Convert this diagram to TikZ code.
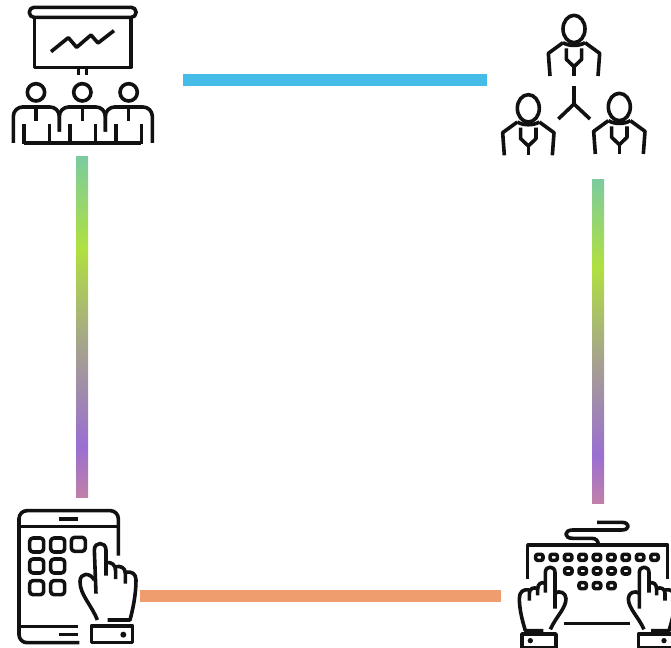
\documentclass[tikz,border=0pt]{standalone}
\usepackage{xcolor}
\definecolor{Ink}{HTML}{111111}
\definecolor{BarBlue}{HTML}{45BCE8}
\definecolor{BarOrange}{HTML}{EF9C6E}
\definecolor{FadeA}{HTML}{7CCB9F}
\definecolor{FadeB}{HTML}{B0E040}
\definecolor{FadeC}{HTML}{A5A090}
\definecolor{FadeD}{HTML}{9A6FD2}
\definecolor{FadeE}{HTML}{C080A8}
\pgfdeclareverticalshading{barfade}{100bp}{color(0bp)=(FadeE); color(25bp)=(FadeE); color(32.5bp)=(FadeD); color(46.5bp)=(FadeC); color(61.5bp)=(FadeB); color(75bp)=(FadeA); color(100bp)=(FadeA)}
\tikzset{
  icon/.style={draw=Ink,line width=2.7pt,line cap=butt,line join=round},
  fadebar/.style={shading=barfade,draw=none},
  person/.pic={
    \draw[icon] (0,0) ellipse [x radius=33,y radius=41];
    \draw[icon] (-33,41) .. controls (-15,52) and (15,52) .. (33,41);
    \draw[icon] (-72,141) -- (-77,73) -- (-33,41);
    \draw[icon] (72,141) -- (77,73) -- (33,41);
    \draw[icon] (-23,58) -- (-23,91) -- (0,113) -- (23,91) -- (23,58);
    \draw[icon] (0,113) -- (0,141);
  },
  typing hand/.pic={
    \draw[icon] (103,248) -- (103,188) .. controls (103,166) and (132,166) .. (132,188) -- (132,296);
    \draw[icon] (132,250) .. controls (145,240) and (165,248) .. (165,266) .. controls (165,295) and (135,320) .. (118,358);
    \draw[icon] (103,220) .. controls (90,214) and (80,222) .. (80,238) -- (80,256);
    \draw[icon] (80,236) .. controls (68,230) and (55,236) .. (55,250) -- (55,272);
    \draw[icon] (55,240) .. controls (38,236) and (25,245) .. (25,265) .. controls (25,300) and (35,335) .. (43,362) -- (97,362);
    \draw[icon] (33,412) -- (33,372) -- (135,372) -- (135,412) -- cycle;
    \fill[Ink] (58,392) circle (8);
  }
}

\begin{document}
\begin{tikzpicture}[x=0.75pt,y=-0.75pt]
\useasboundingbox (0,0) rectangle (671,648);
% bars
\coordinate (topL) at (183,74); \coordinate (topR) at (487,86);
\coordinate (leftT) at (76,156.4); \coordinate (leftB) at (88,497.6);
\coordinate (rightT) at (592,179.4); \coordinate (rightB) at (604,503.6);
\coordinate (lowL) at (140,590); \coordinate (lowR) at (501,602);
\fill[BarBlue] (topL) rectangle (topR);
\fill[BarOrange] (lowL) rectangle (lowR);
\shade[fadebar] (leftT) rectangle (leftB);
\shade[fadebar] (rightT) rectangle (rightB);
% presentation
\begin{scope}[x=0.25pt,y=-0.25pt]
\draw[icon,rounded corners=3.5pt] (88,22) rectangle (408,52);
\draw[icon] (103,52) -- (103,202) -- (393,202) -- (393,52);
\draw[icon] (153,155) -- (205,113) -- (230,142) -- (273,105) -- (294,129) -- (342,92);
\draw[icon] (236,202) -- (236,226);
\draw[icon] (260,202) -- (260,226);
\foreach \x in {108,247,386} {
  \draw[icon] (\x,277) circle (26);
  \draw[icon] (\x,321) -- (\x,363);
}
\draw[icon,rounded corners=7pt] (40,429) -- (40,321) -- (178,321) -- (178,395);
\draw[icon,rounded corners=7pt] (178,395) -- (178,321) -- (316,321) -- (316,395);
\draw[icon,rounded corners=7pt] (316,395) -- (316,321) -- (457,321) -- (457,429);
\foreach \x in {72,148,210,286,348,424} \draw[icon] (\x,371) -- (\x,431);
\draw[icon] (72,429) -- (424,429);
\end{scope}
% team
\begin{scope}[shift={(490,0)},x=0.25pt,y=-0.25pt]
\pic at (252,87) {person};
\pic at (115,325) {person};
\pic at (388,321) {person};
\draw[icon] (252,258) -- (252,312);
\draw[icon] (205,357) -- (252,312) -- (300,357);
\end{scope}
% tablet
\begin{scope}[shift={(0,495)},x=0.25pt,y=-0.25pt]
\draw[icon,rounded corners=6pt] (355,182) -- (355,47) -- (57,47) -- (57,443) -- (238,443);
\draw[icon] (57,95) -- (355,95);
\draw[icon] (178,72) -- (235,72);
\draw[icon] (57,394) -- (235,394);
\draw[icon] (178,419) -- (235,419);
\foreach \x/\y in {110/150,173/150,235/148,110/213,173/213,110/278,173/278}
  \draw[icon,rounded corners=2.5pt] (\x-21,\y-21) rectangle (\x+21,\y+21);
\draw[icon] (288,296) -- (283,165) .. controls (283,139) and (318,139) .. (318,165) -- (318,242);
\draw[icon] (318,203) .. controls (335,200) and (347,210) .. (347,228) -- (347,252);
\draw[icon] (347,215) .. controls (362,212) and (376,218) .. (376,235) -- (376,266);
\draw[icon] (376,232) .. controls (395,228) and (408,236) .. (408,255) .. controls (408,300) and (398,345) .. (390,375) -- (323,375);
\draw[icon] (283,255) .. controls (270,232) and (240,232) .. (240,260) .. controls (240,300) and (275,330) .. (292,375);
\draw[icon] (274,393) rectangle (398,443);
\fill[Ink] (370,419) circle (9);
\end{scope}
% keyboard
\begin{scope}[shift={(511,510)},x=0.25pt,y=-0.25pt]
\draw[icon] (50,208) -- (50,105) -- (470,105) -- (470,208);
\draw[icon] (262,105) .. controls (262,92) and (255,85) .. (242,85) -- (185,85) .. controls (158,85) and (158,60) .. (185,60) -- (332,60) .. controls (358,60) and (358,37) .. (332,37) -- (258,37);
\foreach \x/\y/\n in {85/142/9,172/183/5,215/227/3} {
  \foreach \k in {1,...,\n}
    \draw[icon,rounded corners=1.5pt] ({\x+43.2*(\k-1)-11},\y-9) rectangle ({\x+43.2*(\k-1)+11},\y+9);
}
\draw[icon] (160,340) -- (358,340);
\pic at (0,0) {typing hand};
\pic[xscale=-1] at (517,0) {typing hand};
\end{scope}
\end{tikzpicture}
\end{document}
